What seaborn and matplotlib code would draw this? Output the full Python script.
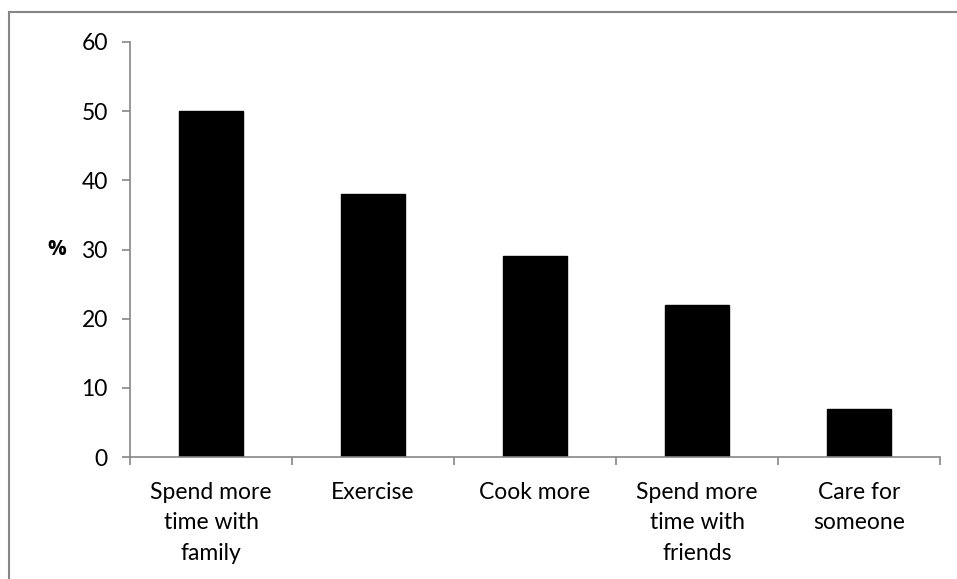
import matplotlib
matplotlib.use("Agg")
import matplotlib.pyplot as plt
import seaborn as sns
import pandas as pd
from matplotlib.patches import Rectangle
from matplotlib.ticker import FixedLocator

categories = ["Spend more\ntime with\nfamily", "Exercise", "Cook more",
              "Spend more\ntime with\nfriends", "Care for\nsomeone"]
values = [50, 38, 29, 22, 7]
y_ticks = [0, 10, 20, 30, 40, 50, 60]
y_label = "%"

sns.set_theme(style="white")
plt.rcParams['font.family'] = ['Lato', 'DejaVu Sans']
plt.rcParams['text.color'] = 'black'

gray = "#868686"
fs = 16.5
fig = plt.figure(figsize=(9.57, 5.79), dpi=100)
ax = fig.add_axes([130/957, 1 - 457/579, 810/957, (457 - 42)/579])

df = pd.DataFrame({"cat": categories, "val": values})
sns.barplot(data=df, x="cat", y="val", color="black", width=0.4, ax=ax,
            saturation=1, edgecolor="black")

ax.set_xlim(-0.5, len(categories) - 0.5)
ax.set_ylim(0, 60)
ax.yaxis.set_major_locator(FixedLocator(y_ticks))
ax.set_yticklabels([str(t) for t in y_ticks])

ax.xaxis.set_minor_locator(FixedLocator([i - 0.5 for i in range(len(categories) + 1)]))
ax.tick_params(axis="x", which="major", length=0, pad=18, labelsize=fs, labelcolor="black")
ax.tick_params(axis="x", which="minor", length=6, width=1.2, color=gray, direction="out", bottom=True)
ax.tick_params(axis="y", which="major", length=6, width=1.2, color=gray, direction="out",
               left=True, pad=10, labelsize=fs, labelcolor="black")
for lbl in ax.get_xticklabels():
    lbl.set_linespacing(1.55)

for s in ["top", "right"]:
    ax.spines[s].set_visible(False)
for s in ["left", "bottom"]:
    ax.spines[s].set_color(gray)
    ax.spines[s].set_linewidth(1.2)

ax.set_xlabel("")
ax.set_ylabel(y_label, rotation=0, fontweight="bold", fontsize=fs - 1.5, va="center",
              family=["Open Sans", "DejaVu Sans"], color="black")
ax.yaxis.set_label_coords(-73/810, 0.5)

fig.patches.append(Rectangle((8.5/957, -0.1), 1.2, 1 - 12.5/579 + 0.1,
                             transform=fig.transFigure, fill=False,
                             edgecolor=gray, linewidth=1.5))

fig.savefig("out.png", dpi=100)
